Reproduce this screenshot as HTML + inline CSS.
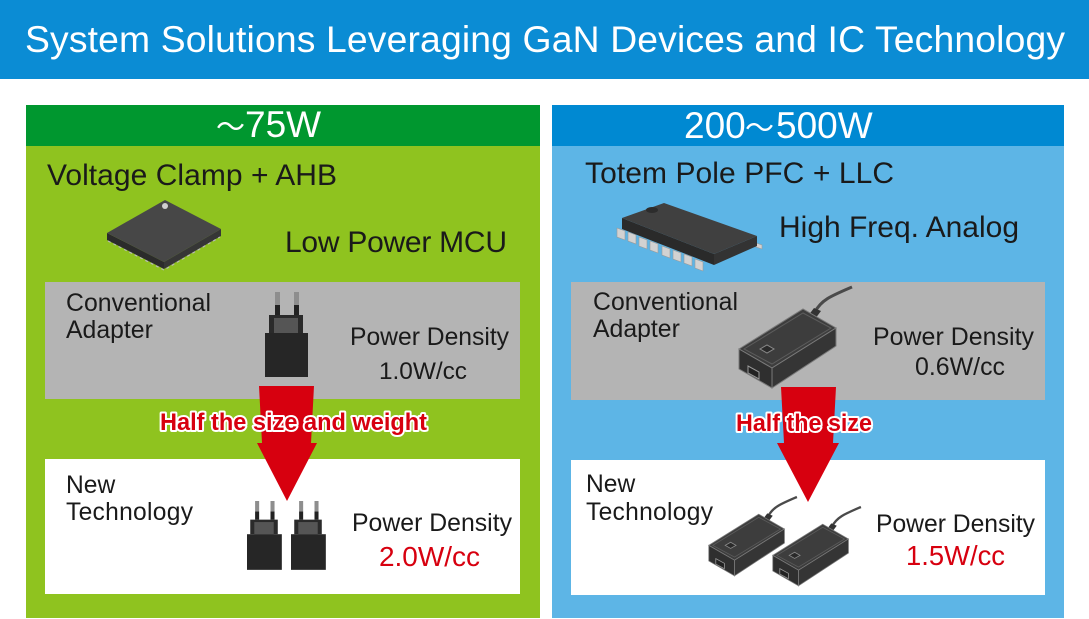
<!DOCTYPE html>
<html><head><meta charset="utf-8"><style>
html,body{margin:0;padding:0;background:#fff;}
svg{display:block;}
text{font-family:"Liberation Sans","Noto Sans CJK JP",Arial,sans-serif;}
</style></head><body>
<svg width="1089" height="619" viewBox="0 0 1089 619" xmlns="http://www.w3.org/2000/svg">
<defs>
<g id="plug">
  <rect x="275" y="292" width="5" height="13" fill="#8e8e8e"/>
  <rect x="294" y="292" width="5" height="13" fill="#8e8e8e"/>
  <rect x="275" y="305" width="5" height="10" fill="#222"/>
  <rect x="294" y="305" width="5" height="10" fill="#222"/>
  <rect x="269" y="315" width="34" height="18" fill="#2a2a2a"/>
  <rect x="274" y="318" width="24" height="15" fill="#555"/>
  <rect x="265" y="333" width="43" height="44" fill="#262626"/>
</g>
<g id="adapter">
  <path d="M815,312 C821,300 831,296 852,287" stroke="#4a4a4a" stroke-width="3" fill="none"/>
  <polygon points="808,316 814,308 821,311 815,319" fill="#333"/>
  <polygon points="739,349 803,309 836,328 772,368" fill="#3d3d3d" stroke="#7a7a7a" stroke-width="1"/>
  <polygon points="739,349 772,368 772,388 739,369" fill="#2f2f2f" stroke="#7a7a7a" stroke-width="1"/>
  <polygon points="772,368 836,328 836,346 772,388" fill="#353535" stroke="#7a7a7a" stroke-width="1"/>
  <polygon points="744,349 803,313 831,328 772,364" fill="none" stroke="#5c5c5c" stroke-width="1"/>
  <polygon points="760,349 767,345 774,349 767,353" fill="#2a2a2a" stroke="#8a8a8a" stroke-width="1"/>
  <polygon points="748,366 759,372 759,379 748,373" fill="#222" stroke="#999" stroke-width="1"/>
</g>
</defs>

<!-- header -->
<rect x="0" y="0" width="1089" height="79" fill="#0b8cd4"/>
<text x="25" y="52" font-size="37.3" fill="#fff" textLength="1040" lengthAdjust="spacing">System Solutions Leveraging GaN Devices and IC Technology</text>

<!-- left panel -->
<rect x="26" y="105" width="514" height="513" fill="#8fc31f"/>
<rect x="26" y="105" width="514" height="41" fill="#00972f"/>
<text y="137" fill="#fff"><tspan x="216" font-size="29">～</tspan><tspan x="245" font-size="37">75W</tspan></text>
<text x="47" y="185" font-size="30" fill="#1a1a1a" textLength="290" lengthAdjust="spacing">Voltage Clamp + AHB</text>
<text x="285" y="252" font-size="30" fill="#1a1a1a" textLength="222" lengthAdjust="spacing">Low Power MCU</text>
<!-- QFN chip -->
<polygon points="107,233 164,262 164,269 107,240" fill="#2b2b2b"/>
<polygon points="164,262 221,229 221,236 164,269" fill="#363636"/>
<polyline points="108,241 164,270 220,237" fill="none" stroke="#b8b8b8" stroke-width="1.2" stroke-dasharray="3,3"/>
<polygon points="165,200 221,229 164,262 107,233" fill="#474747"/>
<circle cx="165" cy="206" r="3" fill="#cfcfcf"/>

<rect x="45" y="282" width="475" height="117" fill="#b4b4b4"/>
<rect x="45" y="459" width="475" height="135" fill="#ffffff"/>

<!-- right panel -->
<rect x="552" y="105" width="512" height="513" fill="#5db5e6"/>
<rect x="552" y="105" width="512" height="41" fill="#0089d2"/>
<text y="138" fill="#fff"><tspan x="684" font-size="37">200</tspan><tspan x="745" font-size="29">～</tspan><tspan x="776" font-size="37">500W</tspan></text>
<text x="585" y="183" font-size="30" fill="#1a1a1a" textLength="309" lengthAdjust="spacing">Totem Pole PFC + LLC</text>
<text x="779" y="237" font-size="30" fill="#1a1a1a" textLength="240" lengthAdjust="spacing">High Freq. Analog</text>
<!-- SOIC chip -->
<g fill="#d2d2d2" stroke="#9a9a9a" stroke-width="0.6">
  <polygon points="617,228 625,231 625,240 617,237"/>
  <polygon points="628,232 636,235 636,244 628,241"/>
  <polygon points="639,237 647,240 647,249 639,246"/>
  <polygon points="650,241 658,244 658,253 650,250"/>
  <polygon points="662,246 670,249 670,258 662,255"/>
  <polygon points="673,250 681,253 681,262 673,259"/>
  <polygon points="684,254 692,257 692,266 684,263"/>
  <polygon points="695,259 703,262 703,271 695,268"/>
  <polygon points="756,243 762,245 762,249 756,247"/>
</g>
<polygon points="622,218 714,254 714,265 622,229" fill="#2a2a2a"/>
<polygon points="714,254 757,236 757,246 714,265" fill="#333"/>
<polygon points="622,218 664,203 757,236 714,254" fill="#404040"/>
<ellipse cx="652" cy="210" rx="6" ry="3" fill="#2c2c2c"/>

<rect x="571" y="282" width="474" height="118" fill="#b4b4b4"/>
<rect x="571" y="460" width="474" height="135" fill="#ffffff"/>

<!-- arrows -->
<polygon points="259,386 314,386 311,443 317,443 287,501 257,443 262,443" fill="#d7000f"/>
<polygon points="781,387 836,387 833,443 839,443 808,502 777,443 784,443" fill="#d7000f"/>

<!-- icons -->
<use href="#plug"/>
<use href="#plug" transform="translate(32.35,264.48) scale(0.81)"/>
<use href="#plug" transform="translate(76.35,264.48) scale(0.81)"/>
<use href="#adapter"/>
<use href="#adapter" transform="translate(132.36,273.14) scale(0.78)"/>
<use href="#adapter" transform="translate(196.36,283.14) scale(0.78)"/>

<!-- left texts -->
<text x="66" y="311" font-size="24.8" fill="#1a1a1a" textLength="145" lengthAdjust="spacing">Conventional</text>
<text x="66" y="338" font-size="24.8" fill="#1a1a1a">Adapter</text>
<text x="350" y="345" font-size="24.7" fill="#1a1a1a" textLength="159" lengthAdjust="spacing">Power Density</text>
<text x="379" y="379" font-size="24.4" fill="#1a1a1a" textLength="88" lengthAdjust="spacing">1.0W/cc</text>
<text x="66" y="493" font-size="24.6" fill="#1a1a1a">New</text>
<text x="66" y="520" font-size="24.6" fill="#1a1a1a" textLength="127" lengthAdjust="spacing">Technology</text>
<text x="352" y="531" font-size="24.8" fill="#1a1a1a" textLength="160" lengthAdjust="spacing">Power Density</text>
<text x="379" y="566" font-size="28" fill="#d7000f" textLength="101" lengthAdjust="spacing">2.0W/cc</text>

<!-- right texts -->
<text x="593" y="310" font-size="24.8" fill="#1a1a1a" textLength="145" lengthAdjust="spacing">Conventional</text>
<text x="593" y="337" font-size="24.8" fill="#1a1a1a">Adapter</text>
<text x="873" y="345" font-size="24.9" fill="#1a1a1a" textLength="161" lengthAdjust="spacing">Power Density</text>
<text x="915" y="375" font-size="24.9" fill="#1a1a1a" textLength="90" lengthAdjust="spacing">0.6W/cc</text>
<text x="586" y="492" font-size="24.6" fill="#1a1a1a">New</text>
<text x="586" y="520" font-size="24.6" fill="#1a1a1a" textLength="127" lengthAdjust="spacing">Technology</text>
<text x="876" y="532" font-size="24.7" fill="#1a1a1a" textLength="159" lengthAdjust="spacing">Power Density</text>
<text x="906" y="565" font-size="27.4" fill="#d7000f" textLength="99" lengthAdjust="spacing">1.5W/cc</text>

<!-- arrow labels -->
<text x="160" y="430" font-size="24" font-weight="bold" fill="#d7000f" stroke="#fff" stroke-width="4" stroke-linejoin="round" paint-order="stroke" textLength="267" lengthAdjust="spacingAndGlyphs">Half the size and weight</text>
<text x="736" y="431" font-size="24" font-weight="bold" fill="#d7000f" stroke="#fff" stroke-width="4" stroke-linejoin="round" paint-order="stroke" textLength="136" lengthAdjust="spacingAndGlyphs">Half the size</text>
</svg>
</body></html>
